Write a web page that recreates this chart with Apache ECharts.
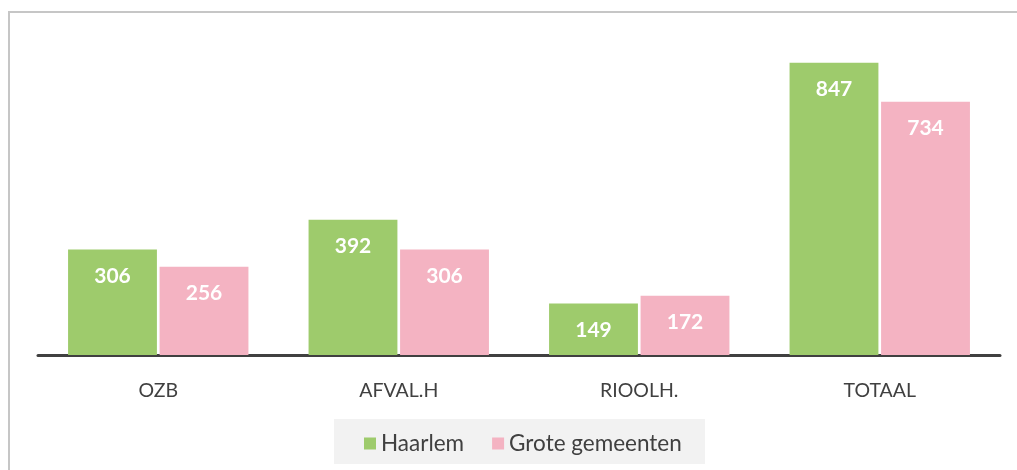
<!DOCTYPE html>
<html>
<head>
    <meta charset="utf-8">
    <title>Lasten</title>
    <script src="https://cdn.jsdelivr.net/npm/echarts@6/dist/echarts.min.js"></script>
    <style>
        html, body { margin: 0; padding: 0; background: #fff; }
    </style>
</head>
<body>
    <div id="main" style="width:1017px;height:470px;"></div>
    <script type="text/javascript">
        // categorieen en waarden
        var categories = ['OZB', 'AFVAL.H', 'RIOOLH.', 'TOTAAL'];
        var seriesNames = ['Haarlem', 'Grote gemeenten'];
        var haarlem = [306, 392, 149, 847];
        var groteGemeenten = [256, 306, 172, 734];

        var chart = echarts.init(document.getElementById('main'));

        var labelStyle = {
            show: true,
            position: 'insideTop',
            distance: 16,
            color: '#ffffff',
            fontFamily: 'Lato',
            fontWeight: 'bold',
            fontSize: 21
        };

        var option = {
            animation: false,
            textStyle: { fontFamily: 'Lato' },
            grid: {
                left: 38,
                right: 17,
                top: 10,
                bottom: 115
            },
            graphic: [
                {
                    type: 'rect',
                    z: -10,
                    shape: { x: 9, y: 12, width: 1100, height: 600 },
                    style: { fill: 'none', stroke: '#c6c6c6', lineWidth: 2 }
                },
                {
                    type: 'rect',
                    z: -5,
                    shape: { x: 334, y: 419, width: 371, height: 45 },
                    style: { fill: '#f2f2f2' }
                }
            ],
            legend: {
                data: seriesNames,
                top: 427,
                left: 359,
                icon: 'rect',
                itemWidth: 12,
                itemHeight: 12,
                itemGap: 28,
                textStyle: {
                    color: '#404040',
                    fontFamily: 'Lato',
                    fontSize: 22.5
                }
            },
            xAxis: {
                type: 'category',
                data: categories,
                axisTick: { show: false },
                axisLine: { lineStyle: { color: '#404040', width: 3 } },
                axisLabel: {
                    color: '#404040',
                    fontSize: 19.5,
                    margin: 26,
                    fontFamily: 'Lato'
                }
            },
            yAxis: {
                type: 'value',
                min: 0,
                max: 1000,
                show: false,
                splitLine: { show: false }
            },
            series: [
                {
                    name: seriesNames[0],
                    type: 'bar',
                    data: haarlem,
                    barGap: '3%',
                    barCategoryGap: '25%',
                    itemStyle: { color: '#9ecb6c' },
                    label: labelStyle
                },
                {
                    name: seriesNames[1],
                    type: 'bar',
                    data: groteGemeenten,
                    itemStyle: { color: '#f4b3c2' },
                    label: labelStyle
                }
            ]
        };

        chart.setOption(option);
    </script>
</body>
</html>
